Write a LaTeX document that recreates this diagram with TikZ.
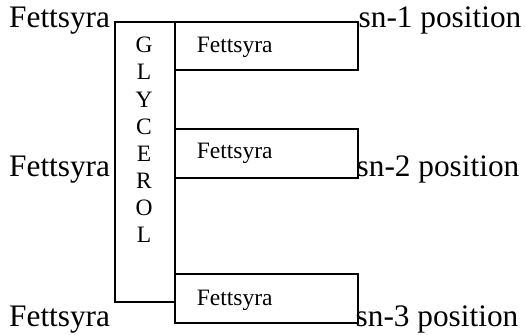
\documentclass[tikz,border=0pt]{standalone}
\usepackage{fontspec}
\setmainfont{Liberation Serif}
\begin{document}
\begin{tikzpicture}[x=1pt,y=-1pt,
  frame/.style={draw, line width=2pt, rectangle, inner sep=0pt, anchor=north west},
  fbox/.style={frame, minimum width=183pt, minimum height=48.5pt},
  big/.style={font=\fontsize{31.3}{36}\selectfont, inner sep=0pt, anchor=base west},
  small/.style={font=\fontsize{23.5}{27}\selectfont, inner sep=0pt, anchor=base west},
  letter/.style={font=\fontsize{23.5}{27}\selectfont, inner sep=0pt, anchor=base}]
\useasboundingbox (0,0) rectangle (526,334);
% glycerol backbone
\node[frame, minimum width=60pt, minimum height=280pt] (glyc) at (114,21) {};
\foreach \l [count=\i] in {G,L,Y,C,E,R,O,L}
  \node[letter] (g\i) at ({144},{53+27*(\i-1)}) {\l};
% fatty acid boxes
\node[fbox] (fa1) at (174,21) {};
\node[fbox] (fa2) at (174,128) {};
\node[fbox] (fa3) at (174,273) {};
\node[small] (t1) at (196.7,52.7) {Fettsyra};
\node[small] (t2) at (196.7,158.5) {Fettsyra};
\node[small] (t3) at (196.7,305) {Fettsyra};
% outer labels
\node[big] (l1) at (9,28) {Fettsyra};
\node[big] (l2) at (9,176.7) {Fettsyra};
\node[big] (l3) at (9,326.7) {Fettsyra};
\node[big] (r1) at (358.5,27.7) {sn-1 position};
\node[big] (r2) at (356.5,176.7) {sn-2 position};
\node[big] (r3) at (355.5,326.7) {sn-3 position};
\end{tikzpicture}
\end{document}
